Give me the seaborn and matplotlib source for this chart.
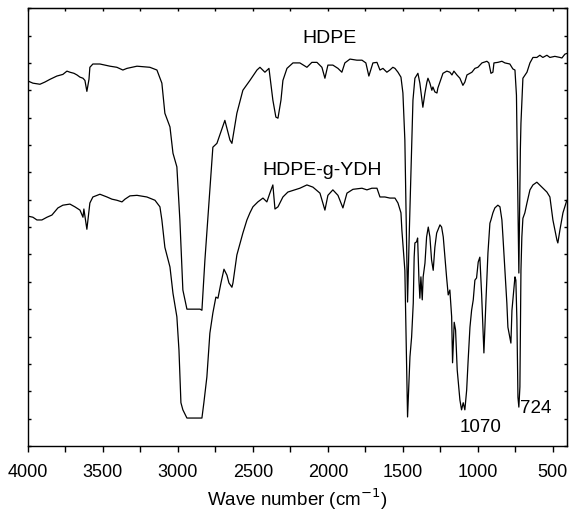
import numpy as np
import pandas as pd
import matplotlib
matplotlib.use("Agg")
import matplotlib.pyplot as plt
import seaborn as sns

# ---- data (wavenumber in cm-1, transmittance in arbitrary units) ----
hdpe_wn = [4000, 3967, 3920, 3887, 3853, 3807, 3767, 3740, 3720, 3693, 3673, 3653, 3633, 3620,
           3607, 3593, 3587, 3567, 3520, 3453, 3407, 3367, 3340, 3273, 3187, 3140, 3107, 3087,
           3053, 3033, 3007, 2987, 2967, 2940, 2887, 2853, 2840, 2820, 2767, 2740, 2687, 2653,
           2640, 2607, 2567, 2520, 2473, 2453, 2420, 2393, 2367, 2347, 2333, 2313, 2300, 2273,
           2233, 2187, 2140, 2107, 2073, 2040, 2020, 2000, 1967, 1933, 1907, 1887, 1853, 1807,
           1773, 1747, 1727, 1700, 1673, 1653, 1633, 1607, 1587, 1567, 1553, 1533, 1513, 1500,
           1487, 1469, 1457, 1440, 1433, 1420, 1407, 1400, 1387, 1373, 1367, 1353, 1340, 1333,
           1320, 1307, 1300, 1287, 1273, 1267, 1253, 1233, 1207, 1187, 1173, 1160, 1140, 1120,
           1100, 1087, 1073, 1040, 1020, 1000, 973, 940, 927, 913, 900, 893, 867, 840, 820,
           787, 767, 753, 743, 727, 717, 713, 700, 673, 653, 633, 607, 587, 567, 540, 520,
           487, 453, 440, 420, 400]
hdpe_t = [66.7, 66.3, 66.1, 66.5, 67.0, 67.6, 67.9, 68.5, 68.3, 68.1, 67.8, 67.4, 67.2, 66.8,
          64.8, 67.0, 69.2, 69.8, 69.8, 69.4, 69.2, 68.7, 69.0, 69.4, 69.2, 68.7, 66.3, 60.8,
          58.3, 53.5, 51.0, 41.3, 28.5, 25.0, 25.0, 25.0, 24.8, 34.0, 54.6, 55.3, 59.5, 55.9,
          55.3, 60.8, 65.0, 66.8, 68.7, 69.2, 68.3, 69.0, 63.2, 60.1, 59.9, 63.2, 66.8, 69.0,
          70.0, 70.0, 69.2, 70.1, 70.1, 69.2, 67.2, 69.6, 69.6, 69.0, 68.3, 70.0, 70.7, 70.5,
          70.5, 70.0, 67.6, 70.0, 70.1, 68.7, 69.0, 68.3, 68.7, 69.2, 69.0, 68.3, 67.4, 64.5,
          55.9, 26.3, 39.5, 55.9, 63.2, 67.2, 67.8, 68.1, 66.3, 63.2, 61.9, 64.5, 66.5, 67.2,
          66.3, 65.0, 65.6, 64.7, 64.5, 65.4, 66.5, 68.1, 68.5, 68.3, 67.8, 68.5, 67.8, 67.2,
          65.9, 66.5, 67.8, 68.3, 69.0, 69.2, 70.0, 70.3, 70.0, 68.1, 68.3, 70.0, 70.1, 70.3, 70.0,
          69.8, 68.9, 68.7, 64.1, 31.6, 54.1, 59.0, 67.2, 68.3, 70.0, 71.0, 71.0, 71.4, 71.0, 71.4, 71.0,
          71.2, 71.0, 70.9, 71.6, 71.8]

ydh_wn = [4000, 3967, 3940, 3907, 3873, 3840, 3800, 3767, 3720, 3687, 3653, 3633, 3627, 3607,
          3587, 3567, 3520, 3473, 3440, 3407, 3373, 3353, 3320, 3273, 3207, 3153, 3120, 3107,
          3087, 3053, 3033, 3007, 2993, 2980, 2967, 2940, 2840, 2827, 2807, 2787, 2767, 2747,
          2733, 2713, 2693, 2673, 2660, 2640, 2633, 2607, 2567, 2540, 2520, 2500, 2467, 2433,
          2407, 2387, 2367, 2353, 2333, 2300, 2267, 2220, 2187, 2140, 2100, 2053, 2020, 2000,
          1967, 1933, 1900, 1873, 1833, 1773, 1740, 1707, 1673, 1653, 1620, 1587, 1567, 1553,
          1533, 1513, 1507, 1487, 1469, 1453, 1442, 1431, 1425, 1420, 1409, 1402, 1393, 1387,
          1380, 1371, 1365, 1353, 1342, 1331, 1320, 1309, 1298, 1287, 1275, 1253, 1242, 1231,
          1220, 1209, 1198, 1187, 1175, 1169, 1158, 1149, 1138, 1120, 1109, 1098, 1087, 1075,
          1065, 1053, 1042, 1031, 1020, 1009, 998, 987, 975, 960, 947, 933, 920, 913, 900, 887,
          867, 853, 840, 833, 820, 807, 800, 780, 773, 753, 747, 740, 733, 727, 720, 713, 707,
          700, 687, 673, 653, 633, 607, 573, 540, 520, 500, 473, 467, 453, 433, 413, 407]
ydh_t = [42.0, 41.8, 41.3, 41.3, 41.8, 42.2, 43.5, 44.0, 44.2, 43.7, 43.1, 41.8, 43.3, 39.6,
         44.4, 45.5, 46.0, 45.5, 45.1, 44.9, 44.6, 45.1, 45.7, 45.8, 45.5, 44.9, 43.7, 41.3,
         36.3, 32.7, 27.9, 23.6, 17.5, 7.9, 6.6, 5.1, 5.1, 7.9, 12.6, 20.6, 24.3, 27.2,
         27.0, 29.8, 32.3, 31.2, 29.8, 29.0, 29.8, 34.9, 38.9, 41.3, 42.6, 43.7, 44.6, 45.3,
         44.6, 46.2, 47.7, 43.3, 43.7, 45.5, 46.4, 46.8, 47.1, 47.7, 47.3, 46.2, 43.1, 45.8,
         46.8, 45.8, 43.5, 46.2, 46.9, 47.1, 46.8, 47.1, 47.1, 45.5, 45.5, 45.3, 45.3, 45.3,
         44.4, 42.6, 39.5, 32.1, 5.3, 16.3, 19.9, 26.1, 34.5, 37.1, 37.3, 38.0, 30.3, 27.0,
         30.9, 26.7, 30.9, 33.4, 38.2, 40.0, 38.2, 34.0, 32.1, 36.3, 38.9, 40.4, 40.0, 38.2,
         34.5, 30.9, 27.6, 28.5, 23.6, 15.2, 22.6, 21.2, 13.9, 8.4, 6.6, 7.9, 6.6, 10.2,
         15.7, 21.7, 24.8, 26.7, 30.3, 30.7, 33.6, 34.5, 27.6, 17.0, 26.1, 35.3, 40.7, 41.3, 42.6, 43.5,
         44.0, 43.7, 41.3, 38.2, 32.1, 26.1, 21.7, 18.8, 24.8, 30.9, 30.3, 23.0, 8.9, 7.1, 10.8, 32.1, 38.2,
         41.6, 42.6, 44.4, 46.8, 47.7, 48.2, 47.3, 46.4, 45.5, 41.3, 37.6, 37.1, 39.5, 42.6, 44.4, 44.9]

series_labels = ["HDPE", "HDPE-g-YDH"]
peak_labels = ["1070", "724"]
peak_pos_wn = [980, 613]
peak_pos_t = [3.3, 6.9]
xtick_vals = [4000, 3500, 3000, 2500, 2000, 1500, 1000, 500]

df = pd.concat([
    pd.DataFrame({"wn": hdpe_wn, "t": hdpe_t, "s": series_labels[0]}),
    pd.DataFrame({"wn": ydh_wn, "t": ydh_t, "s": series_labels[1]}),
])

sns.set_style("ticks")
plt.rcParams["font.family"] = ["Liberation Sans", "DejaVu Sans"]
plt.rcParams["text.color"] = "black"
plt.rcParams["axes.labelcolor"] = "black"
plt.rcParams["xtick.color"] = "black"
plt.rcParams["ytick.color"] = "black"
plt.rcParams["axes.edgecolor"] = "black"

fig = plt.figure(figsize=(5.7, 5.12), dpi=100)
ax = fig.add_axes([0.049, 0.129, 0.946, 0.855])

for name in series_labels:
    sub = df[df["s"] == name]
    sns.lineplot(data=sub, x="wn", y="t", ax=ax, color="black", linewidth=0.9,
                 sort=False, estimator=None, legend=False)

ax.set_xlim(4000, 405)
ax.set_ylim(0, 80)
ax.set_xticks(xtick_vals)
ax.set_xticks(np.arange(3750, 400, -500), minor=True)
ax.set_xticklabels([str(v) for v in xtick_vals], fontsize=13)
ax.set_yticks(np.arange(0, 81, 5))
ax.set_yticklabels([])
ax.tick_params(axis="x", which="both", direction="out", length=4, width=1, top=False, pad=9,
               colors="black")
ax.tick_params(axis="y", which="both", direction="in", length=2.5, width=1, right=False,
               colors="black")
ax.set_xlabel("Wave number (cm$^{-1}$)", fontsize=13.5, labelpad=4, color="black")
ax.set_ylabel("")
for sp in ax.spines.values():
    sp.set_visible(True)
    sp.set_linewidth(1.0)
    sp.set_color("black")

top = ax.secondary_xaxis("top")
top.set_xticks(xtick_vals)
top.set_xticks(np.arange(3750, 400, -500), minor=True)
top.tick_params(axis="x", which="both", direction="in", length=2.5, width=1, labeltop=False,
                colors="black")
right = ax.secondary_yaxis("right")
right.set_yticks(np.arange(0, 81, 5))
right.tick_params(axis="y", which="both", direction="in", length=2.5, width=1, labelright=False,
                  colors="black")

ax.text(1987, 74.5, series_labels[0], fontsize=14, ha="center", va="center", color="black")
ax.text(2040, 50.4, series_labels[1], fontsize=14, ha="center", va="center", color="black")
for lab, xw, yt in zip(peak_labels, peak_pos_wn, peak_pos_t):
    ax.text(xw, yt, lab, fontsize=13.5, ha="center", va="center", color="black")

fig.savefig("out.png", dpi=100)
